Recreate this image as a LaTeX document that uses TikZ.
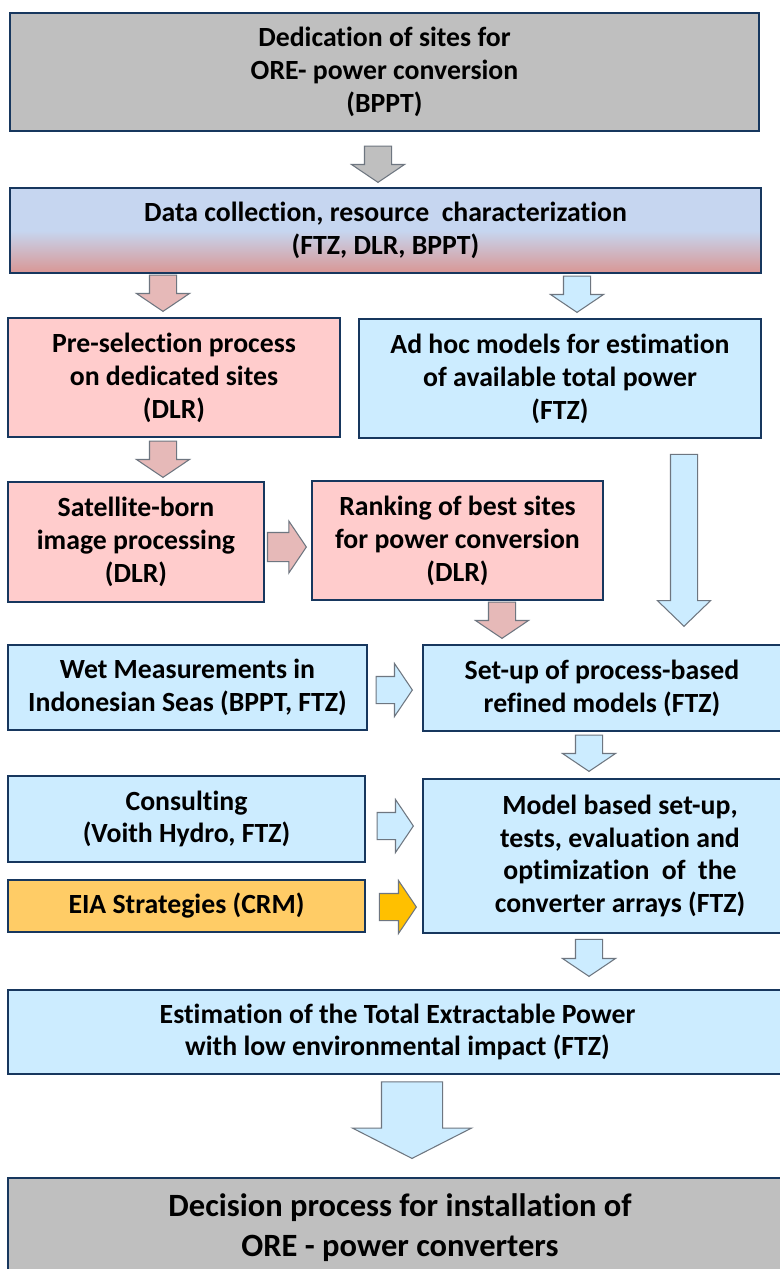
\documentclass[tikz,border=0pt]{standalone}
\usepackage{fontspec}
\setmainfont{Carlito}[Ligatures=NoCommon]
\usetikzlibrary{shapes.arrows,positioning,calc}
\newcommand{\pxu}{0.02cm}
\definecolor{navyline}{RGB}{23,55,94}
\definecolor{boxgray}{RGB}{191,191,191}
\definecolor{boxpink}{RGB}{255,204,204}
\definecolor{boxblue}{RGB}{204,236,255}
\definecolor{boxorng}{RGB}{255,204,102}
\definecolor{datablue}{RGB}{198,214,240}
\definecolor{datapink}{RGB}{217,150,148}
\definecolor{arrline}{RGB}{110,118,128}
\definecolor{arrpink}{RGB}{230,185,184}
\definecolor{arrorng}{RGB}{255,192,0}
\tikzset{
    boxsty/.style={draw=navyline,line width=1.2pt,rectangle,align=center,inner sep=0pt,
                   font=\fontsize{15.8}{18.7}\selectfont\bfseries},
    graysty/.style={boxsty,fill=boxgray},
    pinksty/.style={boxsty,fill=boxpink},
    bluesty/.style={boxsty,fill=boxblue},
    orngsty/.style={boxsty,fill=boxorng},
    datasty/.style={boxsty,top color=datablue,bottom color=datapink,middle color=datablue},
    arrsty/.style={single arrow,draw=arrline,line width=0.6pt,anchor=tip,
                   inner sep=13*\pxu,single arrow head extend=13*\pxu,
                   single arrow tip angle=112,minimum height=34*\pxu},
    dnarrsty/.style={arrsty,shape border rotate=270},
    rtarrsty/.style={arrsty,shape border rotate=0},
}

\begin{document}
\begin{tikzpicture}[x=\pxu,y=-\pxu]
  \useasboundingbox[fill=white] (0,0) rectangle (779,1269);

  % boxes
  \node[graysty,minimum width=749*\pxu,minimum height=118*\pxu] (dedic) at (384.5,72)
    {Dedication of sites for\\ORE- power conversion\\(BPPT)};
  \node[datasty,minimum width=751*\pxu,minimum height=85*\pxu] (datac) at (385.5,230.5)
    {Data collection, resource~ characterization\\(FTZ, DLR, BPPT)};
  \node[pinksty,minimum width=332*\pxu,minimum height=119*\pxu] (presel) at (174,377.5)
    {Pre-selection process\\on dedicated sites\\(DLR)};
  \node[bluesty,minimum width=402*\pxu,minimum height=119*\pxu] (adhoc) at (560,378.5)
    {Ad hoc models for estimation\\of available total power\\(FTZ)};
  \node[pinksty,minimum width=256*\pxu,minimum height=120*\pxu] (satimg) at (136,542)
    {Satellite-born\\image processing\\(DLR)};
  \node[pinksty,minimum width=291*\pxu,minimum height=119*\pxu] (rank) at (457.5,540.5)
    {Ranking of best sites\\for power conversion\\(DLR)};
  \node[bluesty,minimum width=359*\pxu,minimum height=85*\pxu] (wetm) at (187.5,687.5)
    {Wet Measurements in\\Indonesian Seas (BPPT, FTZ)};
  \node[bluesty,minimum width=358*\pxu,minimum height=86*\pxu] (setup) at (602,688)
    {Set-up of process-based\\refined models (FTZ)};
  \node[bluesty,minimum width=357*\pxu,minimum height=86*\pxu] (consult) at (186.5,819)
    {Consulting\\(Voith Hydro, FTZ)};
  \node[orngsty,minimum width=357*\pxu,minimum height=52*\pxu] (eia) at (186.5,906)
    {EIA Strategies (CRM)};
  \node[bluesty,minimum width=394*\pxu,minimum height=154*\pxu] (model) at (620,856)
    {Model based set-up,\\tests, evaluation and\\optimization~ of~ the\\converter arrays (FTZ)};
  \node[bluesty,minimum width=779*\pxu,minimum height=84*\pxu] (est) at (397.5,1032)
    {Estimation of the Total Extractable Power\\with low environmental impact (FTZ)};
  \node[graysty,minimum width=784*\pxu,minimum height=100*\pxu,
        font=\fontsize{18.5}{22.7}\selectfont\bfseries] (decis) at (400,1228)
    {Decision process for installation of\\ORE - power converters};

  % block arrows
  \node[dnarrsty,fill=boxgray] (a1) at (378,183) {};
  \node[dnarrsty,fill=arrpink] (a2) at (163,312) {};
  \node[dnarrsty,fill=boxblue] (a3) at (577,313) {};
  \node[dnarrsty,fill=arrpink] (a4) at (163,478) {};
  \node[rtarrsty,fill=arrpink,inner sep=14*\pxu,single arrow head extend=11.5*\pxu] (a5) at (307,547) {};
  \node[dnarrsty,fill=boxblue,minimum height=172*\pxu,single arrow tip angle=92] (a6) at (684,627) {};
  \node[dnarrsty,fill=arrpink,minimum height=32*\pxu] (a7) at (502,639) {};
  \node[rtarrsty,fill=boxblue] (a8) at (413,690) {};
  \node[dnarrsty,fill=boxblue] (a9) at (589,772) {};
  \node[rtarrsty,fill=boxblue,minimum height=35*\pxu] (a10) at (414,826) {};
  \node[rtarrsty,fill=arrorng,minimum height=37*\pxu] (a11) at (417,907) {};
  \node[dnarrsty,fill=boxblue,minimum height=37*\pxu] (a12) at (589,977) {};
  \node[dnarrsty,fill=boxblue,minimum height=60*\pxu,inner sep=30*\pxu,
        single arrow head extend=29*\pxu,single arrow tip angle=126] (a13) at (412,1159) {};
\end{tikzpicture}
\end{document}
